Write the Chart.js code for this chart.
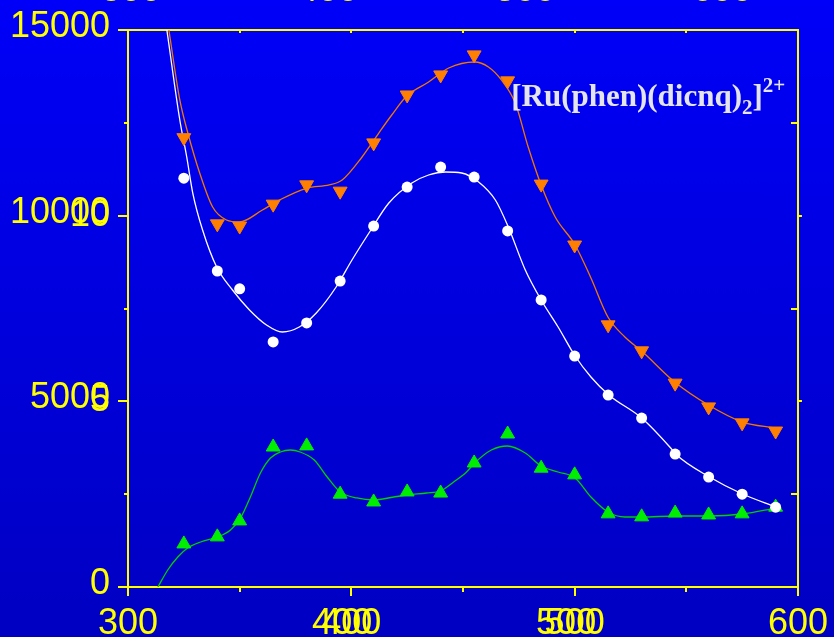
<!DOCTYPE html>
<html lang="en">
<head>
<meta charset="UTF-8">
<title>[Ru(phen)(dicnq)2]2+ spectra</title>
<script src="https://cdn.jsdelivr.net/npm/chart.js"></script>
<style>
  html, body { margin: 0; padding: 0; overflow: hidden; }
  body { width: 834px; height: 637px; position: relative; background: linear-gradient(#0000f8, #0000c2); }
  /* canvas sits 30px above the page so the top axis labels are cut off */
  #spectrum { position: absolute; left: 0; top: -30px; }
</style>
</head>
<body>
<canvas id="spectrum" width="834" height="667"></canvas>

<script>
    // measured points (nm)
    const markerNm = [325, 340, 350, 365, 380, 395, 410, 425, 440, 455, 470, 485, 500, 515, 530, 545, 560, 575, 590];
    const seriesA = [12100, 9780, 9720, 10310, 10830, 10660, 11960, 13250, 13790, 14330, 13630, 10850, 9210, 7060, 6360, 5490, 4850, 4420, 4200]; // orange, down triangles
    const seriesB = [11010, 8510, 8030, 6600, 7110, 8240, 9720, 10770, 11310, 11040, 9590, 7730, 6220, 5170, 4550, 3580, 2960, 2500, 2150]; // white circles
    const seriesC = [1160, 1350, 1780, 3770, 3800, 2500, 2290, 2560, 2530, 3340, 4120, 3200, 3020, 1970, 1890, 1990, 1940, 1970, 2150]; // green, up triangles

    // smooth fitted curves
    const fitANm = [318.3, 323.2, 326.8, 332.1, 337.9, 344.1, 349.9, 360.2, 367.8, 380.2, 390.1, 395.9, 404.8, 412.3, 418.1, 424.8, 434.6, 443.6, 455.2, 461.4, 467.2, 473.4, 479.2, 485.0, 491.3, 500.2, 507.3, 514.9, 522.5, 530.0, 544.8, 559.9, 575.1, 589.8];
    const fitA = [15000, 13115, 12226, 11149, 10233, 9883, 9829, 10152, 10422, 10745, 10826, 10960, 11580, 12226, 12711, 13223, 13600, 13977, 14138, 14004, 13654, 13034, 11849, 10826, 9964, 9210, 8321, 7271, 6733, 6355, 5521, 4901, 4443, 4282];
    const fitBNm = [317.4, 323.2, 326.3, 329.0, 333.4, 339.7, 346.8, 354.4, 362.0, 369.1, 376.7, 384.3, 393.2, 400.3, 407.9, 416.8, 427.1, 434.6, 442.2, 449.4, 457.0, 464.5, 470.3, 477.9, 485.0, 492.6, 500.2, 507.3, 515.3, 530.0, 543.0, 545.2, 560.4, 575.1, 590.2];
    const fitB = [15000, 12576, 11580, 10610, 9614, 8618, 7998, 7460, 7056, 6867, 7002, 7379, 8079, 8806, 9533, 10341, 10880, 11095, 11176, 11149, 10907, 10422, 9695, 8537, 7729, 7002, 6221, 5655, 5171, 4551, 3743, 3582, 2962, 2504, 2154];
    const fitCNm = [313.4, 317.8, 322.3, 326.7, 332.5, 340.1, 345.9, 350.4, 354.8, 359.3, 363.8, 368.2, 372.7, 377.1, 383.4, 389.2, 395.0, 402.5, 410.1, 419.0, 425.3, 433.7, 440.0, 445.8, 451.6, 455.2, 462.7, 469.9, 477.9, 485.0, 492.6, 500.2, 507.3, 514.9, 522.5, 530.0, 545.2, 560.4, 575.1, 590.2];
    const fitC = [0, 458, 808, 1050, 1212, 1347, 1535, 1858, 2424, 3070, 3474, 3636, 3689, 3636, 3420, 2962, 2558, 2397, 2343, 2424, 2478, 2531, 2585, 2828, 3097, 3339, 3689, 3797, 3609, 3259, 3097, 2935, 2424, 2020, 1885, 1885, 1912, 1912, 1966, 2127];

    // tick values
    const xMajorTicks = [300, 400, 500, 600];
    const xMinorTicks = [350, 450, 550];
    const xGhostTicks = [400, 500];
    const xTopTicks = [300, 400, 500, 600];
    const xTopMarks = [350, 400, 450, 500, 550];
    const yMajorTicks = [0, 5000, 10000, 15000];
    const yMinorTicks = [2500, 7500, 12500];
    const yGhostTicks = [5, 10];
    const yRightOuter = [5000, 10000];
    const yRightInner = [2500, 7500, 12500];

    const YELLOW = '#ffff00';
    const tickFont = { family: 'Liberation Sans', size: 36 };
    const plain = v => String(v);

    const pairs = (xs, ys) => xs.map((x, i) => ({ x: x, y: ys[i] }));
    const useTicks = values => scale => { scale.ticks = values.map(v => ({ value: v })); };

    const markers = (data, style, rotation, color, radius, border) => ({
        data: pairs(markerNm, data),
        showLine: false,
        pointStyle: style,
        rotation: rotation,
        pointRadius: radius,
        pointBackgroundColor: color,
        pointBorderColor: color,
        pointBorderWidth: border,
        xAxisID: 'x',
        yAxisID: 'y'
    });
    const curve = (xs, ys, color) => ({
        data: pairs(xs, ys),
        borderColor: color,
        borderWidth: 1.3,
        pointRadius: 0,
        cubicInterpolationMode: 'monotone',
        fill: false,
        xAxisID: 'x',
        yAxisID: 'y'
    });

    // tick-only axis pinned onto another axis value
    const markAxis = (axis, pos, values, length) => ({
        type: 'linear',
        axis: axis,
        position: pos,
        min: axis === 'x' ? 300 : 0,
        max: axis === 'x' ? 600 : 15000,
        afterBuildTicks: useTicks(values),
        border: { display: false },
        grid: { drawOnChartArea: false, color: YELLOW, lineWidth: 2, tickLength: length },
        ticks: { display: false }
    });

    // chemical formula with sub- and superscript
    const formulaLabel = {
        id: 'formulaLabel',
        afterDatasetsDraw(chart) {
            const { ctx, scales } = chart;
            let px = scales.x.getPixelForValue(471.6);
            const base = scales.y.getPixelForValue(12950);
            const parts = [
                ['[Ru(phen)(dicnq)', 31, 0],
                ['2', 21, 8],
                [']', 31, 0],
                ['2+', 21, -14]
            ];
            ctx.save();
            ctx.fillStyle = '#e4e4ec';
            ctx.textBaseline = 'alphabetic';
            for (const [text, size, dy] of parts) {
                ctx.font = 'bold ' + size + 'px "Liberation Serif"';
                ctx.fillText(text, px, base + dy);
                px += ctx.measureText(text).width;
            }
            ctx.restore();
        }
    };

    const ctx = document.getElementById('spectrum').getContext('2d');
    new Chart(ctx, {
        type: 'line',
        data: {
            datasets: [
                markers(seriesA, 'triangle', 180, '#ff7f00', 8, 1),
                markers(seriesB, 'circle', 0, '#ffffff', 5.5, 0),
                markers(seriesC, 'triangle', 0, '#00ee00', 8, 1),
                curve(fitANm, fitA, '#f07800'),
                curve(fitBNm, fitB, '#ffffff'),
                curve(fitCNm, fitC, '#00d000')
            ]
        },
        plugins: [formulaLabel],
        options: {
            responsive: false,
            animation: false,
            events: [],
            layout: { padding: 0 },
            plugins: { legend: { display: false }, tooltip: { enabled: false } },
            scales: {
                x: {
                    type: 'linear',
                    position: 'bottom',
                    min: 300,
                    max: 600,
                    afterBuildTicks: useTicks(xMajorTicks),
                    afterFit: s => { s.height = 50; },
                    border: { color: YELLOW, width: 2 },
                    grid: { drawOnChartArea: false, color: YELLOW, lineWidth: 2, tickLength: 9 },
                    ticks: { color: YELLOW, font: tickFont, padding: 6, maxRotation: 0, callback: plain }
                },
                y: {
                    type: 'linear',
                    position: 'left',
                    min: 0,
                    max: 15000,
                    afterBuildTicks: useTicks(yMajorTicks),
                    afterFit: s => { s.width = 128; },
                    border: { color: YELLOW, width: 2 },
                    grid: { drawOnChartArea: false, color: YELLOW, lineWidth: 2, tickLength: 10 },
                    ticks: { color: YELLOW, font: tickFont, padding: 8, labelOffset: -3, callback: plain }
                },
                // second y label set in thousands, right edge just left of the ticks
                yGhost: {
                    type: 'linear',
                    axis: 'y',
                    position: { x: 292 },
                    min: 0,
                    max: 15,
                    afterBuildTicks: useTicks(yGhostTicks),
                    border: { display: false },
                    grid: { display: false, drawTicks: false },
                    ticks: { color: YELLOW, font: tickFont, padding: 0, callback: plain }
                },
                xTop: {
                    type: 'linear',
                    axis: 'x',
                    position: 'top',
                    min: 298.5,
                    max: 638.4,
                    afterBuildTicks: useTicks(xTopTicks),
                    afterFit: s => { s.height = 60; },
                    border: { color: YELLOW, width: 2 },
                    grid: { display: false, drawTicks: false },
                    ticks: { color: YELLOW, font: tickFont, padding: 17, maxRotation: 0, callback: plain }
                },
                yRight: {
                    type: 'linear',
                    axis: 'y',
                    position: 'right',
                    min: 0,
                    max: 15000,
                    afterBuildTicks: useTicks(yRightOuter),
                    afterFit: s => { s.width = 33; },
                    border: { color: YELLOW, width: 2 },
                    grid: { drawOnChartArea: false, color: YELLOW, lineWidth: 2, tickLength: 4 },
                    ticks: { display: false }
                },
                // second, slightly shifted set of x labels
                xGhost: {
                    type: 'linear',
                    axis: 'x',
                    position: { y: 0 },
                    min: 304.4,
                    max: 603.5,
                    afterBuildTicks: useTicks(xGhostTicks),
                    border: { display: false },
                    grid: { display: false, drawTicks: false },
                    ticks: { color: YELLOW, font: tickFont, padding: 15, maxRotation: 0, callback: plain }
                },
                xMinor: markAxis('x', { y: 0 }, xMinorTicks, 5),
                xTopMinor: markAxis('x', { y: 15000 }, xTopMarks, 3),
                yMinor: markAxis('y', { x: 300 }, yMinorTicks, 4),
                yRightMinor: markAxis('y', { x: 600 }, yRightInner, 7)
            }
        }
    });
</script>
</body>
</html>
